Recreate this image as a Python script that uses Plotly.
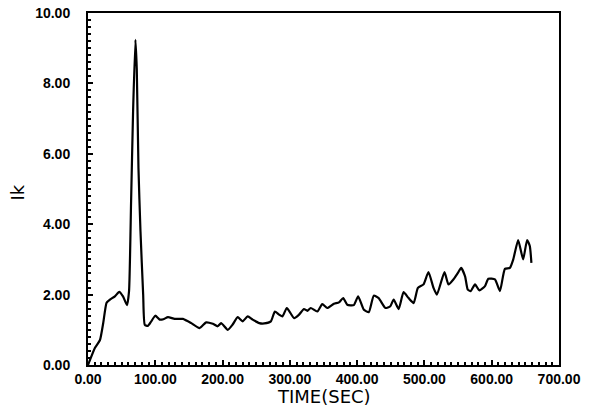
import plotly.graph_objects as go

time_sec = [0, 10.4, 17.8, 22.7, 27.6, 32.6, 40, 46.4, 52, 58, 61, 64, 67, 70.5, 72.5, 75, 78, 82, 84.4,
            89, 94, 100, 106.5, 112, 118.9, 128.8, 141, 153.5, 165.8, 175.6, 185.5, 192.8, 197.8,
            207.7, 215, 222.4, 229.8, 237.3, 244.7, 254.5, 262, 271.8, 277.7, 284, 289, 295.5,
            306.4, 313.7, 321, 326, 331, 340.8, 348.2, 355.6, 365.5, 373, 379.3, 385.3, 395,
            401.5, 410, 417.3, 424.7, 432, 442, 449.3, 454.3, 461.7, 469, 476.5, 484, 490.3,
            498.7, 506, 513.5, 518.5, 529.8, 535.7, 543, 550.5, 554.5, 560.4, 564.4, 568.8,
            575.2, 581.6, 590, 595, 604.8, 612.2, 619.6, 627, 632, 639.3, 646.7, 652.6, 656.6, 659]
ik_values = [0, 0.49, 0.71, 1.2, 1.77, 1.86, 1.95, 2.08, 1.95, 1.7, 2.1, 4.6, 7.2, 9.24, 8.4, 5.6, 3.8, 2.0, 1.14,
             1.11, 1.24, 1.4, 1.29, 1.3, 1.36, 1.31, 1.31, 1.19, 1.05, 1.21, 1.17, 1.1, 1.19,
             1.0, 1.15, 1.36, 1.24, 1.38, 1.29, 1.19, 1.18, 1.24, 1.52, 1.43, 1.38, 1.62,
             1.33, 1.43, 1.59, 1.54, 1.62, 1.52, 1.73, 1.62, 1.74, 1.78, 1.9, 1.71, 1.7,
             1.95, 1.57, 1.5, 1.97, 1.9, 1.62, 1.67, 1.86, 1.59, 2.07, 1.9, 1.76, 2.19,
             2.29, 2.64, 2.19, 2.0, 2.64, 2.29, 2.43, 2.64, 2.76, 2.52, 2.14, 2.1,
             2.29, 2.12, 2.24, 2.45, 2.43, 2.1, 2.73, 2.76, 3.0, 3.55, 3.0, 3.55, 3.38, 2.9]

x_ticks = [0, 100, 200, 300, 400, 500, 600, 700]
x_tick_labels = ["0.00", "100.00", "200.00", "300.00", "400.00", "500.00", "600.00", "700.00"]
y_ticks = [0, 2, 4, 6, 8, 10]
y_tick_labels = ["0.00", "2.00", "4.00", "6.00", "8.00", "10.00"]
x_title = "TIME(SEC)"
y_title = "Ik"

fig = go.Figure()
fig.add_trace(go.Scatter(x=time_sec, y=ik_values, mode="lines",
                         line=dict(color="black", width=2.2, shape="spline", smoothing=0.5),
                         showlegend=False))

tick_font = dict(family="Liberation Sans, Arial, sans-serif", size=14, color="black", weight="bold")

fig.update_layout(
    width=595, height=407,
    margin=dict(l=88, r=36, t=13, b=42),
    paper_bgcolor="white", plot_bgcolor="white",
    xaxis=dict(range=[0, 700], tickvals=x_ticks, ticktext=x_tick_labels, automargin=False,
               showgrid=False, zeroline=False, showline=True, linecolor="black", linewidth=2,
               mirror=True, ticks="inside", ticklen=5, tickwidth=2, tickcolor="black",
               minor=dict(dtick=10, ticks="inside", ticklen=3, tickwidth=1.5, tickcolor="black"),
               tickfont=tick_font, ticklabelstandoff=0),
    yaxis=dict(range=[0, 10], tickvals=y_ticks, ticktext=y_tick_labels, automargin=False,
               showgrid=False, zeroline=False, showline=True, linecolor="black", linewidth=2,
               mirror=True, ticks="inside", ticklen=5, tickwidth=2, tickcolor="black",
               minor=dict(dtick=0.2, ticks="inside", ticklen=3, tickwidth=1.5, tickcolor="black"),
               tickfont=tick_font, ticklabelstandoff=13),
    annotations=[
        dict(text=x_title, xref="paper", yref="paper", x=0.5, y=0, yshift=-31,
             xanchor="center", yanchor="middle", showarrow=False,
             font=dict(family="DejaVu Sans, sans-serif", size=18, color="black")),
        dict(text=y_title, xref="paper", yref="paper", x=0, y=0.49, xshift=-70,
             xanchor="center", yanchor="middle", textangle=-90, showarrow=False,
             font=dict(family="DejaVu Sans, sans-serif", size=18, color="black")),
    ],
)

fig.write_html("out.html", post_script="document.body.style.margin='0';",
               config={"displayModeBar": False})
